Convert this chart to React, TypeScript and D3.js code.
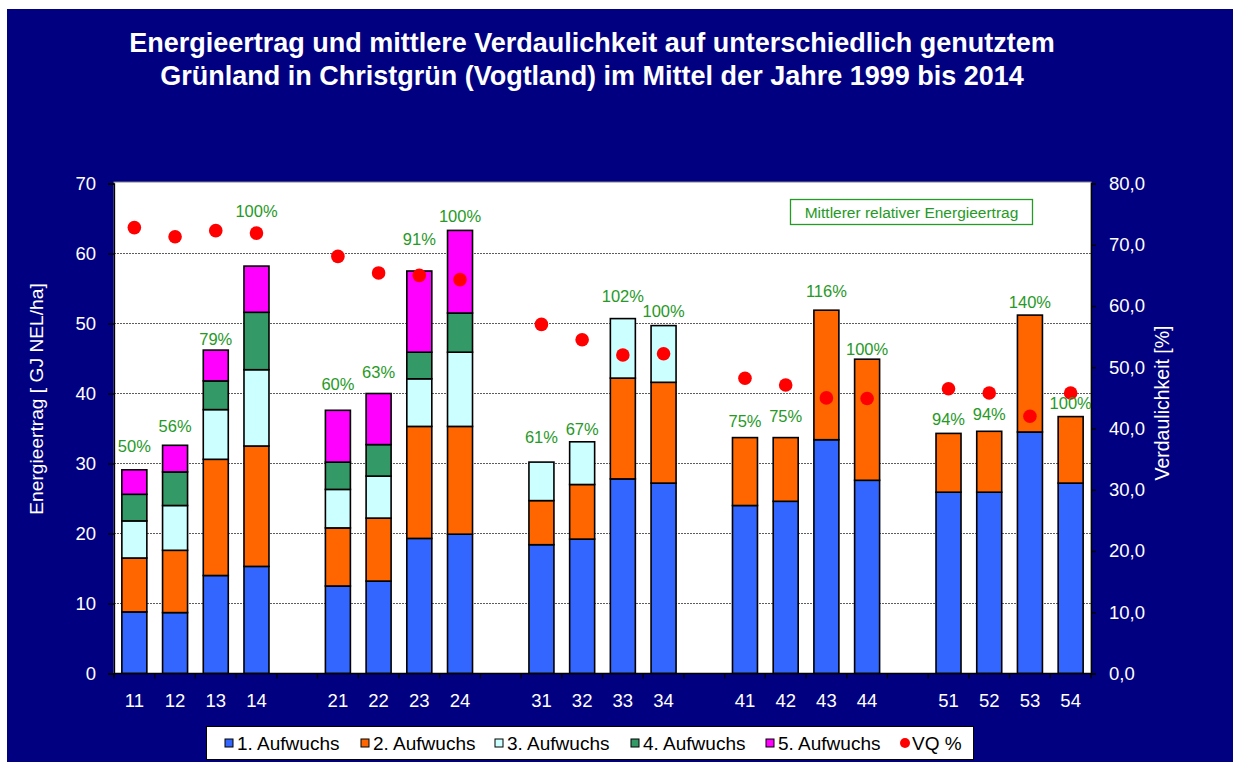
import React, { useEffect, useRef } from "react";
import * as d3 from "d3";

// Parzellen (Nutzungsvarianten)
const categories = ["11", "12", "13", "14", "21", "22", "23", "24", "31", "32", "33", "34", "41", "42", "43", "44", "51", "52", "53", "54"];

// Energieertrag je Aufwuchs [GJ NEL/ha]
const aufwuchs1 = [8.8, 8.7, 14.0, 15.3, 12.5, 13.2, 19.3, 19.9, 18.4, 19.2, 27.8, 27.2, 24.0, 24.6, 33.4, 27.6, 25.9, 25.9, 34.5, 27.2];
const aufwuchs2 = [7.7, 8.9, 16.6, 17.2, 8.3, 9.0, 16.0, 15.4, 6.3, 7.8, 14.4, 14.4, 9.7, 9.1, 18.5, 17.3, 8.4, 8.7, 16.7, 9.5];
const aufwuchs3 = [5.3, 6.4, 7.1, 10.9, 5.5, 6.0, 6.8, 10.6, 5.5, 6.1, 8.5, 8.1, 0, 0, 0, 0, 0, 0, 0, 0];
const aufwuchs4 = [3.8, 4.8, 4.1, 8.2, 3.9, 4.5, 3.8, 5.6, 0, 0, 0, 0, 0, 0, 0, 0, 0, 0, 0, 0];
const aufwuchs5 = [3.5, 3.8, 4.4, 6.6, 7.4, 7.3, 11.6, 11.8, 0, 0, 0, 0, 0, 0, 0, 0, 0, 0, 0, 0];

// Verdaulichkeit VQ [%]
const vq = [72.8, 71.3, 72.3, 71.9, 68.1, 65.4, 65.0, 64.3, 57.0, 54.5, 52.0, 52.2, 48.2, 47.1, 45.0, 44.9, 46.5, 45.8, 42.0, 45.8];

// mittlerer relativer Energieertrag und Hoehe der Beschriftung (GJ-Achse)
const relErtrag = ["50%", "56%", "79%", "100%", "60%", "63%", "91%", "100%", "61%", "67%", "102%", "100%", "75%", "75%", "116%", "100%", "94%", "94%", "140%", "100%"];
const relErtragAt = [32.5, 35.3, 47.7, 66.0, 41.3, 43.0, 62.1, 65.3, 33.7, 34.9, 53.9, 51.7, 36.0, 36.7, 54.6, 46.3, 36.3, 37.0, 53.0, 38.6];

const seriesNames = ["1. Aufwuchs", "2. Aufwuchs", "3. Aufwuchs", "4. Aufwuchs", "5. Aufwuchs"];
const colors = ["#3366ff", "#ff6600", "#ccffff", "#339966", "#ff00ff"];

const W = 1233, H = 762;
const FONT = "'Liberation Sans', Arial, sans-serif";

const drawChart = (svgEl) => {
  const svg = d3.select(svgEl);
  svg.selectAll("*").remove();

  const plot = { left: 114, right: 1091, top: 183.5, bottom: 673.5 };

  svg.append("rect").attr("width", W).attr("height", H).attr("fill", "#fff");
  svg.append("rect").attr("x", 7).attr("y", 9).attr("width", W - 7).attr("height", H - 9).attr("fill", "#000080");

  // title
  const title = svg.append("text")
    .attr("text-anchor", "middle")
    .attr("font-family", FONT)
    .attr("font-weight", "bold")
    .attr("font-size", 27)
    .attr("fill", "#fff");
  title.append("tspan").attr("x", 592).attr("y", 52)
    .text("Energieertrag und mittlere Verdaulichkeit auf unterschiedlich genutztem");
  title.append("tspan").attr("x", 592).attr("y", 85)
    .text("Grünland in Christgrün (Vogtland) im Mittel der Jahre 1999 bis 2014");

  // slots with a gap between groups
  const slots = [];
  categories.forEach((c, i) => {
    if (i > 0 && i % 4 === 0) slots.push("gap" + i);
    slots.push(c);
  });

  const x = d3.scaleBand().domain(slots).range([plot.left, plot.right])
    .paddingInner(0.386).paddingOuter(0.193);
  const y = d3.scaleLinear().domain([0, 70]).range([plot.bottom, plot.top]);
  const y2 = d3.scaleLinear().domain([0, 80]).range([plot.bottom, plot.top]);

  svg.append("rect")
    .attr("x", plot.left).attr("y", plot.top - 1.5)
    .attr("width", plot.right - plot.left).attr("height", plot.bottom - plot.top + 1.5)
    .attr("fill", "#fff").attr("stroke", "#808080");

  // gridlines
  svg.append("g").selectAll("line").data(y.ticks(7).filter((t) => t > 0 && t < 70)).join("line")
    .attr("x1", plot.left).attr("x2", plot.right)
    .attr("y1", (d) => y(d)).attr("y2", (d) => y(d))
    .attr("stroke", "#333").attr("stroke-width", 0.8).attr("stroke-dasharray", "2,1");

  // stacked bars
  const rows = categories.map((c, i) => ({
    cat: c, a1: aufwuchs1[i], a2: aufwuchs2[i], a3: aufwuchs3[i], a4: aufwuchs4[i], a5: aufwuchs5[i],
  }));
  const keys = ["a1", "a2", "a3", "a4", "a5"];
  const stacked = d3.stack().keys(keys)(rows);

  svg.append("g").selectAll("g").data(stacked).join("g")
    .attr("fill", (d, i) => colors[i])
    .selectAll("rect").data((d) => d.filter((p) => p[1] - p[0] > 0)).join("rect")
    .attr("x", (d) => x(d.data.cat))
    .attr("width", x.bandwidth())
    .attr("y", (d) => y(d[1]))
    .attr("height", (d) => y(d[0]) - y(d[1]))
    .attr("stroke", "#000").attr("stroke-width", 1.6);

  // VQ points
  svg.append("g").selectAll("circle").data(categories).join("circle")
    .attr("cx", (d) => x(d) + x.bandwidth() / 2)
    .attr("cy", (d, i) => y2(vq[i]))
    .attr("r", 6.8)
    .attr("fill", "#ff0000");

  // relative yield labels
  svg.append("g").selectAll("text").data(categories).join("text")
    .attr("x", (d) => x(d) + x.bandwidth() / 2)
    .attr("y", (d, i) => y(relErtragAt[i]))
    .attr("dy", "0.35em")
    .attr("text-anchor", "middle")
    .attr("font-family", FONT).attr("font-size", 16.5)
    .attr("fill", "#269926")
    .text((d, i) => relErtrag[i]);

  // note box
  svg.append("rect").attr("x", 790.5).attr("y", 199.5).attr("width", 242).attr("height", 25)
    .attr("fill", "#fff").attr("stroke", "#269926").attr("stroke-width", 1.3);
  svg.append("text").attr("x", 911.5).attr("y", 217.5).attr("text-anchor", "middle")
    .attr("font-family", FONT).attr("font-size", 15.5).attr("fill", "#269926")
    .text("Mittlerer relativer Energieertrag");

  // left axis
  const leftAxis = svg.append("g")
    .attr("transform", `translate(${plot.left},0)`)
    .call(d3.axisLeft(y).ticks(7).tickSize(6).tickPadding(12));
  leftAxis.selectAll("text").attr("fill", "#fff").attr("font-size", 18.5).attr("font-family", FONT);
  leftAxis.selectAll("line, path").attr("stroke", "#000").attr("stroke-width", 1.3);

  // right axis
  const rightAxis = svg.append("g")
    .attr("transform", `translate(${plot.right},0)`)
    .call(d3.axisRight(y2).ticks(8).tickSize(5).tickPadding(13)
      .tickFormat((d) => d3.format(".1f")(d).replace(".", ",")));
  rightAxis.selectAll("text").attr("fill", "#fff").attr("font-size", 18.5).attr("font-family", FONT);
  rightAxis.selectAll("line, path").attr("stroke", "#000").attr("stroke-width", 1.3);

  // x axis
  const xAxis = svg.append("g");
  xAxis.append("line").attr("x1", plot.left).attr("x2", plot.right)
    .attr("y1", plot.bottom).attr("y2", plot.bottom).attr("stroke", "#000").attr("stroke-width", 1.5);
  xAxis.selectAll("line.tick").data(d3.range(slots.length + 1)).join("line")
    .attr("class", "tick")
    .attr("x1", (i) => plot.left + i * x.step()).attr("x2", (i) => plot.left + i * x.step())
    .attr("y1", plot.bottom).attr("y2", plot.bottom + 5)
    .attr("stroke", "#000").attr("stroke-width", 1.3);
  xAxis.selectAll("text").data(categories).join("text")
    .attr("x", (d) => x(d) + x.bandwidth() / 2)
    .attr("y", 701).attr("dy", "0.35em")
    .attr("text-anchor", "middle")
    .attr("font-family", FONT).attr("font-size", 18.5).attr("fill", "#fff")
    .text((d) => d);

  // axis titles
  svg.append("text")
    .attr("transform", "translate(43,399) rotate(-90)")
    .attr("text-anchor", "middle")
    .attr("font-family", FONT).attr("font-size", 19.2).attr("fill", "#fff")
    .text("Energieertrag [ GJ NEL/ha]");
  svg.append("text")
    .attr("transform", "translate(1169,403) rotate(-90)")
    .attr("text-anchor", "middle")
    .attr("font-family", FONT).attr("font-size", 19.5).attr("fill", "#fff")
    .text("Verdaulichkeit [%]");

  // legend
  const legend = svg.append("g");
  legend.append("rect").attr("x", 206.5).attr("y", 726.5).attr("width", 767).attr("height", 33)
    .attr("fill", "#fff").attr("stroke", "#000").attr("stroke-width", 1);
  const legendX = [225, 361, 495, 631, 766];
  seriesNames.forEach((name, i) => {
    legend.append("rect").attr("x", legendX[i]).attr("y", 739).attr("width", 8).attr("height", 8)
      .attr("fill", colors[i]).attr("stroke", "#000").attr("stroke-width", 1);
    legend.append("text").attr("x", legendX[i] + 12).attr("y", 743).attr("dy", "0.35em")
      .attr("font-family", FONT).attr("font-size", 19).attr("fill", "#000")
      .text(name);
  });
  legend.append("circle").attr("cx", 905).attr("cy", 743).attr("r", 5).attr("fill", "#ff0000");
  legend.append("text").attr("x", 912).attr("y", 743).attr("dy", "0.35em")
    .attr("font-family", FONT).attr("font-size", 19).attr("fill", "#000")
    .text("VQ %");
};

export default function App() {
  const ref = useRef(null);
  useEffect(() => {
    drawChart(ref.current);
  }, []);

  return (
    <svg
      ref={ref}
      width={W}
      height={H}
      style={{ position: "absolute", left: 0, top: 0, display: "block" }}
    />
  );
}
